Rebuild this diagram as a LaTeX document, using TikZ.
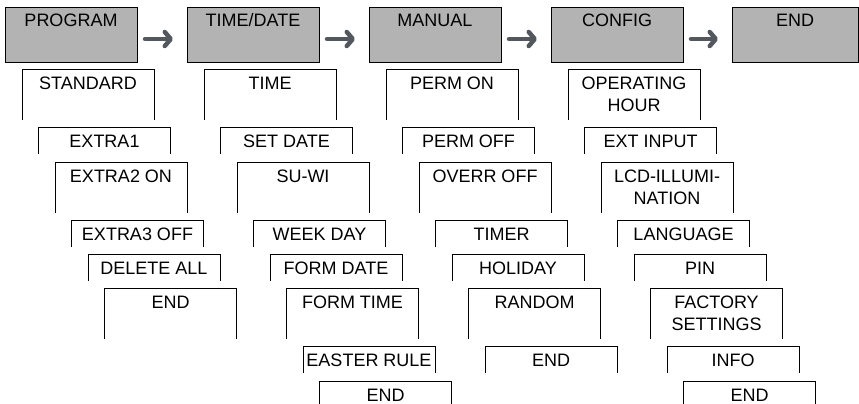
\documentclass[tikz,border=0pt]{standalone}
\usepackage{fontspec}
\setmainfont{Liberation Sans}
\usetikzlibrary{arrows.meta}
\definecolor{topgray}{RGB}{179,179,179}
\definecolor{arrgray}{RGB}{82,88,93}
\newcommand\subbox[6][-20pt]{%
  \node[sub, minimum height=#5pt] (#2) at (#3,#4) {};
  \draw[edge] (#2.south west) -- (#2.north west) -- (#2.north east) -- (#2.south east);
  \node[lbl] (#2t) at ([yshift=#1]#2.north) {#6};
}
\newcommand\topbox[3]{%
  \node[topb] (#1) at (#2,7) {};
  \node[lbl] (#1t) at ([yshift=-20pt]#1.north) {#3};
}
\begin{document}
\begin{tikzpicture}[x=1pt,y=-1pt,
  topb/.style={draw=black, line width=0.8pt, fill=topgray, minimum width=132pt,
    minimum height=55pt, anchor=north west, inner sep=0pt, outer sep=0pt},
  sub/.style={anchor=north west, minimum width=132pt, inner sep=0pt, outer sep=0pt},
  edge/.style={draw=black, line width=0.8pt},
  lbl/.style={anchor=base, inner sep=0pt, align=center,
    font=\fontsize{18pt}{22.5pt}\selectfont},
  conn/.style={draw=arrgray, line width=4.5pt, line cap=round,
    -{Straight Barb[length=6pt, width=14pt, line cap=round, line join=round]}}]
\useasboundingbox (0,0) rectangle (859,404);
% top row
\topbox{p1}{5}{PROGRAM}
\topbox{p2}{187}{TIME/DATE}
\topbox{p3}{369}{MANUAL}
\topbox{p4}{551}{CONFIG}
\node[topb, minimum width=126pt] (p5) at (732,7) {};
\node[lbl] (p5t) at ([yshift=-20pt]p5.north) {END};
\draw[conn] ([shift={(8pt,-4.5pt)}]p1.east) -- ([shift={(-14pt,-4.5pt)}]p2.west);
\draw[conn] ([shift={(8pt,-4.5pt)}]p2.east) -- ([shift={(-14pt,-4.5pt)}]p3.west);
\draw[conn] ([shift={(8pt,-4.5pt)}]p3.east) -- ([shift={(-14pt,-4.5pt)}]p4.west);
\draw[conn] ([shift={(8pt,-4.5pt)}]p4.east) -- ([shift={(-14pt,-4.5pt)}]p5.west);
% PROGRAM column
\subbox{a0}{22}{69}{51}{STANDARD}
\subbox{a1}{38.5}{127}{27}{EXTRA1}
\subbox{a2}{55}{162}{51}{EXTRA2 ON}
\subbox{a3}{71.5}{220}{27}{EXTRA3 OFF}
\subbox{a4}{88}{254}{27}{DELETE ALL}
\subbox{a5}{104.5}{288}{51}{END}
% TIME/DATE column
\subbox{b0}{204}{69}{51}{TIME}
\subbox{b1}{220.5}{127}{27}{SET DATE}
\subbox{b2}{237}{162}{51}{SU-WI}
\subbox{b3}{253.5}{220}{27}{WEEK DAY}
\subbox{b4}{270}{254}{27}{FORM DATE}
\subbox{b5}{286.5}{288}{51}{FORM TIME}
\subbox{b6}{303}{346}{27}{EASTER RULE}
\subbox{b7}{319.5}{381}{27}{END}
% MANUAL column
\subbox{c0}{386}{69}{51}{PERM ON}
\subbox{c1}{402.5}{127}{27}{PERM OFF}
\subbox{c2}{419}{162}{51}{OVERR OFF}
\subbox{c3}{435.5}{220}{27}{TIMER}
\subbox{c4}{452}{254}{27}{HOLIDAY}
\subbox{c5}{468.5}{288}{51}{RANDOM}
\subbox{c6}{485}{346}{27}{END}
% CONFIG column
\subbox[-42.5pt]{d0}{568}{69}{51}{OPERATING\\HOUR}
\subbox{d1}{584.5}{127}{27}{EXT INPUT}
\subbox[-42.5pt]{d2}{601}{162}{51}{LCD-ILLUMI-\\NATION}
\subbox{d3}{617.5}{220}{27}{LANGUAGE}
\subbox{d4}{634}{254}{27}{PIN}
\subbox[-42.5pt]{d5}{650.5}{288}{51}{FACTORY\\SETTINGS}
\subbox{d6}{667}{346}{27}{INFO}
\subbox{d7}{683.5}{381}{27}{END}
\end{tikzpicture}
\end{document}
